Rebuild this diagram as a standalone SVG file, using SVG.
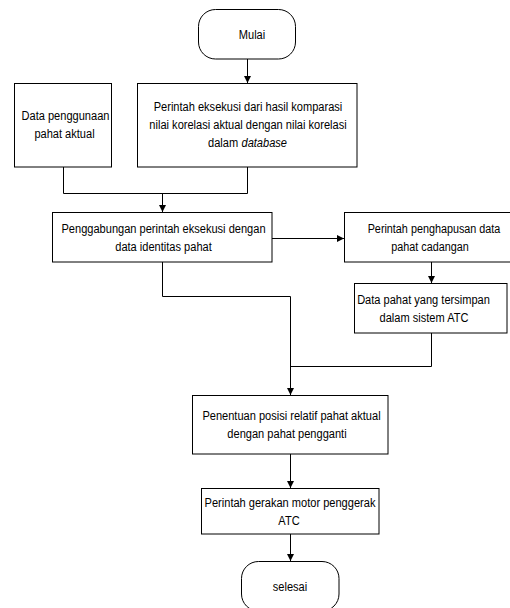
<svg xmlns="http://www.w3.org/2000/svg" width="510" height="608" viewBox="0 0 510 608">
<defs>
<marker id="arr" viewBox="0 0 10 10" refX="10" refY="5" markerWidth="7" markerHeight="9" markerUnits="userSpaceOnUse" orient="auto">
<path d="M0,0 L10,5 L0,10 Z" fill="#000"/>
</marker>
<style>
.box{fill:#fff;stroke:#000;stroke-width:1}
.t{font-family:"Liberation Sans",Arial,sans-serif;font-size:13.5px;fill:#000;text-anchor:middle}
.s{text-anchor:start}
.i{font-style:italic}
.c{fill:none;stroke:#000;stroke-width:1}
.a{marker-end:url(#arr)}
</style>
</defs>
<rect width="510" height="608" fill="#fff"/>
<g id="connectors">
<path class="c a" d="M247.5,59 V83"/>
<path class="c" d="M63.5,167 V193.5 H247.5 V167"/>
<path class="c a" d="M162.5,193.5 V212"/>
<path class="c a" d="M272,238.5 H344"/>
<path class="c a" d="M431.5,262 V283"/>
<path class="c a" d="M162.5,262 V296.5 H290.5 V395"/>
<path class="c" d="M431.5,333 V366.5 H290.5"/>
<path class="c a" d="M290.5,454 V488"/>
<path class="c a" d="M290.5,534 V561"/>
</g>
<g id="mulai">
<rect class="box" x="198.5" y="9.5" width="97" height="49.5" rx="17" ry="17"/>
<text class="t" transform="translate(252,38.5) scale(0.82,1)">Mulai</text>
</g>
<g id="data-penggunaan">
<rect class="box" x="14.5" y="83.5" width="97" height="83.5"/>
<text class="t" transform="translate(65.5,120) scale(0.82,1)">Data penggunaan</text>
<text class="t" transform="translate(64.5,138) scale(0.82,1)">pahat aktual</text>
</g>
<g id="perintah-eksekusi">
<rect class="box" x="137.5" y="83.5" width="219.5" height="83.5"/>
<text class="t" transform="translate(248,111) scale(0.82,1)">Perintah eksekusi dari hasil komparasi</text>
<text class="t" transform="translate(248,129) scale(0.82,1)">nilai korelasi aktual dengan nilai korelasi</text>
<text class="t s" transform="translate(208,147) scale(0.82,1)">dalam</text>
<text class="t s i" transform="translate(241.5,147) scale(0.82,1)">database</text>
</g>
<g id="penggabungan">
<rect class="box" x="52.5" y="212.5" width="219.5" height="49.5"/>
<text class="t" transform="translate(163.5,233) scale(0.82,1)">Penggabungan perintah eksekusi dengan</text>
<text class="t" transform="translate(163.5,251) scale(0.82,1)">data identitas pahat</text>
</g>
<g id="penghapusan">
<rect class="box" x="344.5" y="212.5" width="170" height="49.5"/>
<text class="t" transform="translate(434,233) scale(0.8,1)">Perintah penghapusan data</text>
<text class="t" transform="translate(430,251) scale(0.8,1)">pahat cadangan</text>
</g>
<g id="data-tersimpan">
<rect class="box" x="354.5" y="283.5" width="152.5" height="49.5"/>
<text class="t" transform="translate(423.5,304) scale(0.82,1)">Data pahat yang tersimpan</text>
<text class="t" transform="translate(424,322) scale(0.82,1)">dalam sistem ATC</text>
</g>
<g id="penentuan">
<rect class="box" x="192.5" y="395.5" width="195.5" height="58.5"/>
<text class="t" transform="translate(291.5,420) scale(0.82,1)">Penentuan posisi relatif pahat aktual</text>
<text class="t" transform="translate(287,438) scale(0.82,1)">dengan pahat pengganti</text>
</g>
<g id="gerakan">
<rect class="box" x="201.5" y="488.5" width="177.5" height="45.5"/>
<text class="t" transform="translate(290,507) scale(0.82,1)">Perintah gerakan motor penggerak</text>
<text class="t" transform="translate(289,525) scale(0.82,1)">ATC</text>
</g>
<g id="selesai">
<rect class="box" x="241.5" y="561.5" width="97.5" height="49.5" rx="17" ry="17"/>
<text class="t" transform="translate(290,590.5) scale(0.82,1)">selesai</text>
</g>
</svg>
